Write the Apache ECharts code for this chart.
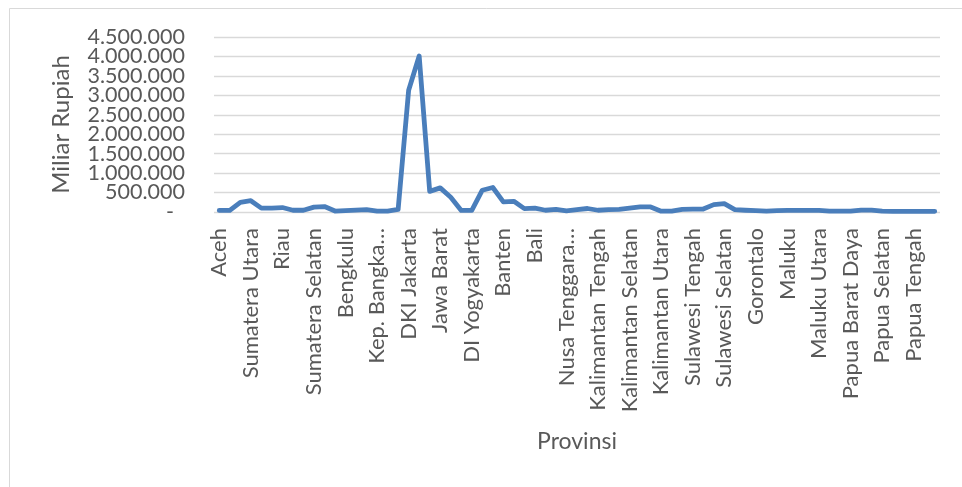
<!DOCTYPE html>
<html>
<head>
<meta charset="utf-8">
<script src="https://cdn.jsdelivr.net/npm/echarts@6/dist/echarts.min.js"></script>
<style>
  html, body { margin: 0; padding: 0; background: #fff; }
  #chart { width: 962px; height: 487px; }
</style>
</head>
<body>
<div id="chart"></div>
<script>
// Province rows (every third one is labelled on the axis)
const provinsi = [
  'Aceh', '', '',
  'Sumatera Utara', 'Sumatera Barat', '',
  'Riau', 'Jambi', '',
  'Sumatera Selatan', '', '',
  'Bengkulu', 'Lampung', '',
  'Kep. Bangka Belitung', 'Kep. Riau', '',
  'DKI Jakarta', '', '',
  'Jawa Barat', 'Jawa Tengah', '',
  'DI Yogyakarta', 'Jawa Timur', '',
  'Banten', '', '',
  'Bali', '', '',
  'Nusa Tenggara Barat', 'Nusa Tenggara Timur', 'Kalimantan Barat',
  'Kalimantan Tengah', '', '',
  'Kalimantan Selatan', 'Kalimantan Timur', '',
  'Kalimantan Utara', 'Sulawesi Utara', '',
  'Sulawesi Tengah', '', '',
  'Sulawesi Selatan', 'Sulawesi Tenggara', '',
  'Gorontalo', 'Sulawesi Barat', '',
  'Maluku', '', '',
  'Maluku Utara', 'Papua Barat', '',
  'Papua Barat Daya', 'Papua', '',
  'Papua Selatan', '', '',
  'Papua Tengah', 'Papua Pegunungan', ''
];

// Values in billions of rupiah
const nilai = [
  40000, 40000, 250000,
  290000, 100000, 100000,
  115000, 45000, 45000,
  125000, 140000, 25000,
  35000, 50000, 60000,
  20000, 20000, 65000,
  3130000, 4010000, 530000,
  620000, 380000, 40000,
  40000, 560000, 630000,
  260000, 275000, 86000,
  100000, 45000, 70000,
  30000, 60000, 90000,
  45000, 60000, 70000,
  100000, 130000, 130000,
  20000, 25000, 70000,
  75000, 75000, 190000,
  215000, 60000, 45000,
  35000, 25000, 35000,
  40000, 40000, 40000,
  40000, 20000, 20000,
  20000, 50000, 50000,
  20000, 17000, 17000,
  17000, 17000, 17000
];

// Value axis ticks
const yTicks = [0, 500000, 1000000, 1500000, 2000000, 2500000, 3000000, 3500000, 4000000, 4500000];
const yTickLabels = ['-', '500.000', '1.000.000', '1.500.000', '2.000.000', '2.500.000',
  '3.000.000', '3.500.000', '4.000.000', '4.500.000'];

const textColor = '#595959';
const font = 'Lato';
const gridLeft = 214;

function potong(s) {
  // long names are cut at the last word and end with an ellipsis
  if (s.length > 18) {
    return s.split(' ').slice(0, -1).join(' ') + '\u2026';
  }
  return s;
}

const chart = echarts.init(document.getElementById('chart'), null, { renderer: 'canvas' });

chart.setOption({
  backgroundColor: '#ffffff',
  animation: false,
  graphic: [{
    id: 'frame',
    type: 'rect',
    shape: { x: 9.5, y: 8.5, width: 1000, height: 1000 },
    style: { fill: 'none', stroke: '#d9d9d9', lineWidth: 1 },
    silent: true
  }],
  grid: { left: gridLeft, right: 22, top: 37, bottom: 275, containLabel: false },
  xAxis: {
    type: 'category',
    data: provinsi,
    boundaryGap: true,
    axisLine: { show: false },
    axisTick: { show: false },
    axisLabel: {
      interval: 2,
      rotate: 90,
      margin: 16,
      color: textColor,
      fontFamily: font,
      fontSize: 22,
      formatter: potong
    },
    name: 'Provinsi',
    nameLocation: 'middle',
    nameGap: 218,
    nameTextStyle: { color: textColor, fontFamily: font, fontSize: 23 }
  },
  yAxis: {
    type: 'value',
    min: yTicks[0],
    max: yTicks[yTicks.length - 1],
    interval: yTicks[1] - yTicks[0],
    axisLine: { show: false },
    axisTick: { show: false },
    splitLine: { lineStyle: { color: '#d9d9d9', width: 1.3 } },
    // tick texts sit closer than their font height, so they are placed below as graphics
    axisLabel: { show: false },
    name: 'Miliar Rupiah',
    nameLocation: 'middle',
    nameGap: 141,
    nameRotate: 90,
    nameTextStyle: { color: textColor, fontFamily: font, fontSize: 24 }
  },
  series: [{
    type: 'line',
    data: nilai,
    symbol: 'none',
    lineStyle: { color: '#4a7ebb', width: 4.8, cap: 'round', join: 'round' }
  }]
});

// Value-axis tick texts, positioned with the axis scale
const tickTexts = yTicks.map(function (v, i) {
  const y = chart.convertToPixel({ yAxisIndex: 0 }, v);
  const isZero = v === 0;
  return {
    id: 'ytick' + i,
    type: 'text',
    x: gridLeft - (isZero ? 40 : 29),
    y: y,
    silent: true,
    style: {
      text: yTickLabels[i],
      fill: textColor,
      font: '21.5px ' + font,
      align: 'right',
      verticalAlign: 'middle'
    }
  };
});
chart.setOption({ graphic: tickTexts });
</script>
</body>
</html>
